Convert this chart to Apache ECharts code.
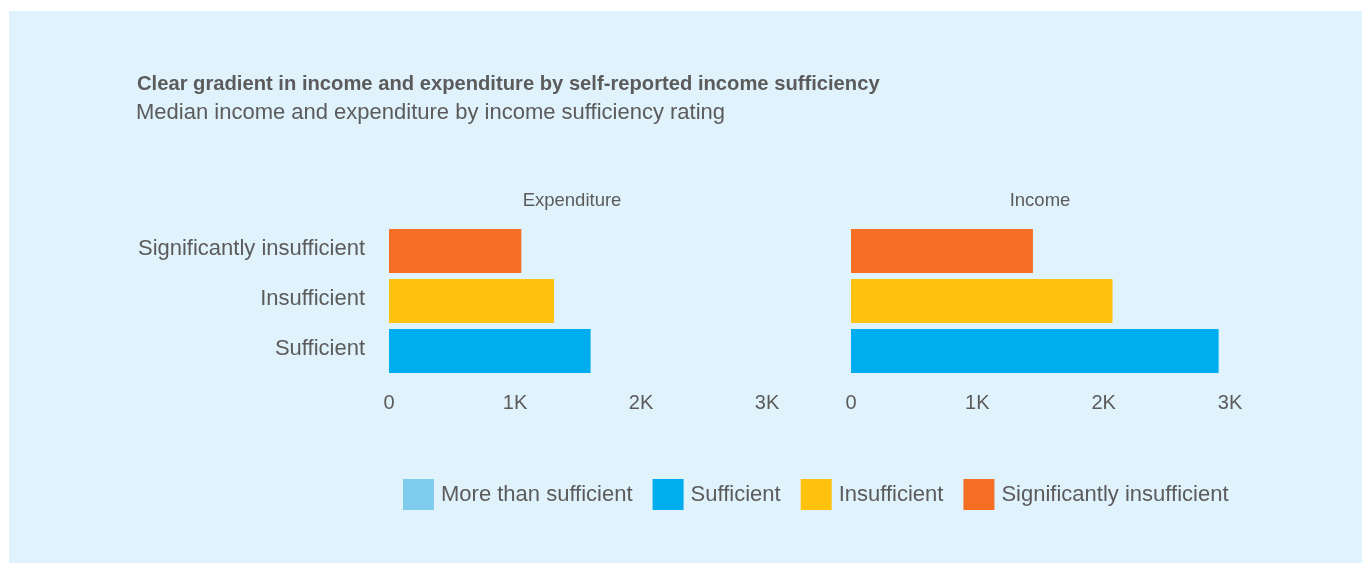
<!DOCTYPE html>
<html>
<head>
<meta charset="utf-8">
<script src="https://cdn.jsdelivr.net/npm/echarts@6/dist/echarts.min.js"></script>
<style>
  html, body { margin: 0; padding: 0; background: #ffffff; }
  #panel { position: absolute; left: 9px; top: 11px; width: 1353px; height: 552px; background: #e0f2fc; }
  #chart { position: absolute; left: 0; top: 0; width: 1362px; height: 563px; }
</style>
</head>
<body>
<div id="panel"></div>
<div id="chart"></div>
<script>
// Income sufficiency ratings, bottom to top on the category axis
const categories = ['Sufficient', 'Insufficient', 'Significantly insufficient'];
// Median monthly values per rating
const expenditure = [1600, 1310, 1050];
const income = [2910, 2070, 1440];
// Legend entries and their colours
const legendNames = ['More than sufficient', 'Sufficient', 'Insufficient', 'Significantly insufficient'];
const legendColors = ['#7fcdec', '#00aeef', '#ffc20e', '#f46e24'];
const panelTitles = ['Expenditure', 'Income'];
const xTicks = [0, 1000, 2000, 3000];

const textColor = '#5b5b5b';
const font = '"Liberation Sans", Arial, sans-serif';

function rowData(values, name) {
  const idx = categories.indexOf(name);
  return categories.map((c, i) => (i === idx ? values[i] : null));
}

const panels = [expenditure, income];
const series = [];
panels.forEach((values, p) => {
  legendNames.forEach((name, k) => {
    series.push({
      name: name,
      type: 'bar',
      xAxisIndex: p,
      yAxisIndex: p,
      stack: 'panel' + p,
      barCategoryGap: '12%',
      itemStyle: { color: legendColors[k] },
      data: rowData(values, name)
    });
  });
});

const grids = [
  { left: 389, top: 226, width: 378, height: 150 },
  { left: 851, top: 226, width: 379, height: 150 }
];

const chart = echarts.init(document.getElementById('chart'), null, { renderer: 'canvas' });
chart.setOption({
  backgroundColor: 'transparent',
  animation: false,
  textStyle: { fontFamily: font, color: textColor },
  title: [
    {
      text: 'Clear gradient in income and expenditure by self-reported income sufficiency',
      left: 137, top: 74, padding: 0,
      textStyle: { fontFamily: font, fontSize: 20.2, fontWeight: 'bold', color: textColor }
    },
    {
      text: 'Median income and expenditure by income sufficiency rating',
      left: 136, top: 102, padding: 0,
      textStyle: { fontFamily: font, fontSize: 22, fontWeight: 'normal', color: textColor }
    },
    {
      text: panelTitles[0], left: 572, top: 191, textAlign: 'center', padding: 0,
      textStyle: { fontFamily: font, fontSize: 18.5, fontWeight: 'normal', color: textColor }
    },
    {
      text: panelTitles[1], left: 1040, top: 191, textAlign: 'center', padding: 0,
      textStyle: { fontFamily: font, fontSize: 18.5, fontWeight: 'normal', color: textColor }
    }
  ],
  legend: {
    data: legendNames,
    left: 403, top: 479, padding: 0,
    icon: 'rect',
    itemWidth: 31, itemHeight: 31,
    itemGap: 20,
    textStyle: { fontFamily: font, fontSize: 22, color: textColor, padding: [0, 0, 0, 2] },
    selectedMode: false
  },
  grid: grids,
  xAxis: grids.map((g, i) => ({
    type: 'value',
    gridIndex: i,
    min: 0, max: 3000, interval: 1000,
    axisLine: { show: false },
    axisTick: { show: false },
    splitLine: { show: false },
    axisLabel: {
      fontFamily: font, fontSize: 20, color: textColor, margin: 17,
      formatter: v => (xTicks.indexOf(v) >= 0 ? (v === 0 ? '0' : (v / 1000) + 'K') : '')
    }
  })),
  yAxis: grids.map((g, i) => ({
    type: 'category',
    gridIndex: i,
    data: categories,
    axisLine: { show: false },
    axisTick: { show: false },
    splitLine: { show: false },
    axisLabel: {
      show: i === 0,
      margin: 24,
      formatter: v => '{c|' + v + '}',
      rich: {
        c: { fontFamily: font, fontSize: 22, color: textColor, padding: [0, 0, 5, 0] }
      }
    }
  })),
  series: series
});
</script>
</body>
</html>
